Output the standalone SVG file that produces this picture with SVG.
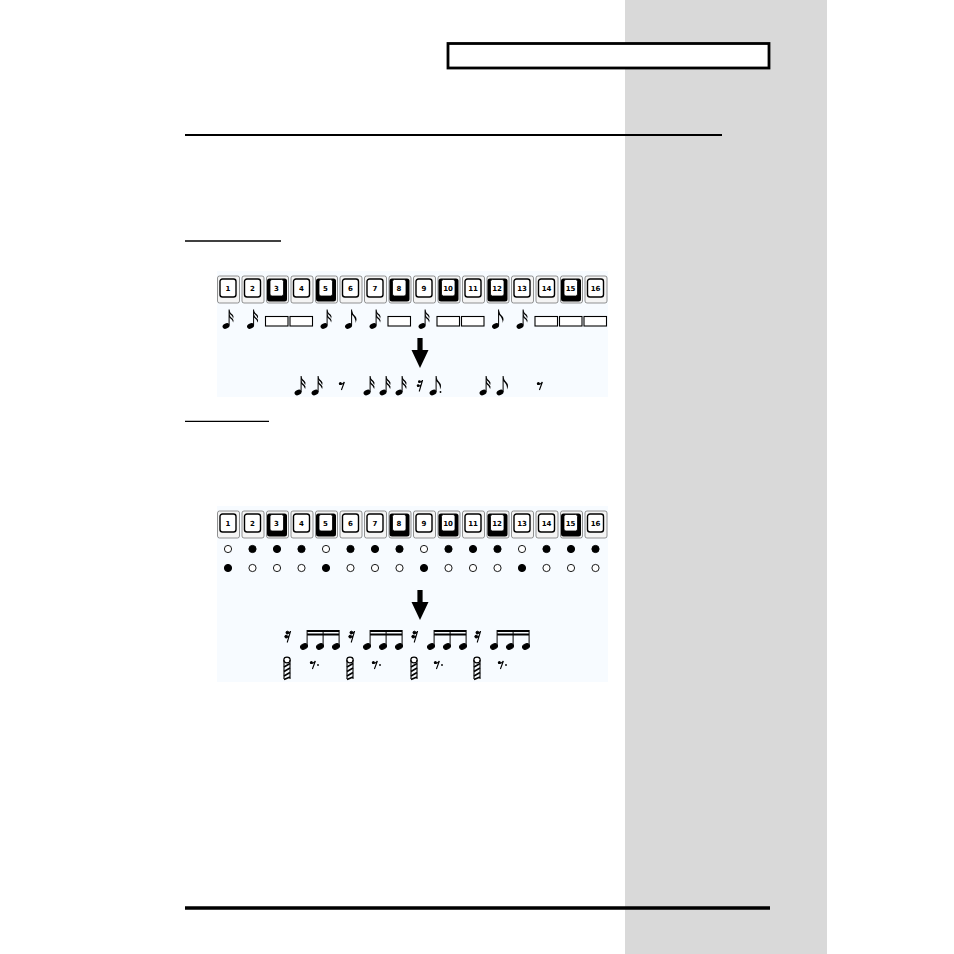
<svg xmlns="http://www.w3.org/2000/svg" xmlns:xlink="http://www.w3.org/1999/xlink" width="954" height="954" viewBox="0 0 954 954">
<style>
.hous{fill:#f4f4f4;stroke:#666;stroke-width:0.7}
.face{fill:#fff;stroke:#000;stroke-width:1.4}
.aface{fill:#fff;stroke:#000;stroke-width:0.8}
.lbl{font-family:"DejaVu Sans",sans-serif;font-weight:bold;font-size:7px;text-anchor:middle;fill:#000}
.box{fill:#fff;stroke:#000;stroke-width:1.1}
.on{fill:#000;stroke:#000;stroke-width:1}
.off{fill:#fff;stroke:#000;stroke-width:0.9}
.panel{fill:#f7fbff}
</style>
<defs>
<g id="n16">
<ellipse cx="0" cy="0" rx="3.6" ry="2.6" transform="rotate(-25)" fill="#000"/>
<line x1="3.1" y1="-0.5" x2="3.1" y2="-16.5" stroke="#000" stroke-width="1"/>
<path d="M3.1,-16.5 Q4,-13 6.5,-11.5 Q8.2,-10 7.2,-7.5 Q6.5,-10.5 3.1,-12.8 Z" fill="#000"/>
<path d="M3.1,-12.5 Q4,-9 6.5,-7.5 Q8.2,-6 7.2,-3.5 Q6.5,-6.5 3.1,-8.8 Z" fill="#000"/>
</g>
<g id="n8">
<ellipse cx="0" cy="0" rx="3.6" ry="2.6" transform="rotate(-25)" fill="#000"/>
<line x1="3.1" y1="-0.5" x2="3.1" y2="-16.5" stroke="#000" stroke-width="1"/>
<path d="M3.1,-16.5 Q4,-12 7,-9.5 Q9,-7 7,-3 Q7.5,-8 3.1,-11.5 Z" fill="#000"/>
</g>
<g id="nh">
<ellipse cx="0" cy="0" rx="3.6" ry="2.6" transform="rotate(-25)" fill="#000"/>
</g>
<g id="r8">
<circle cx="-1.6" cy="-2.6" r="1.5" fill="#000"/>
<path d="M-2.8,-2 Q0,-0.8 2.4,-4 L-0.6,4" fill="none" stroke="#000" stroke-width="1.1"/>
</g>
<g id="r16">
<circle cx="-0.6" cy="-4.4" r="1.4" fill="#000"/>
<circle cx="-1.8" cy="-0.4" r="1.4" fill="#000"/>
<path d="M-1.6,-4 Q0.8,-3 2.6,-5.8 M-2.8,0 Q-0.4,1 1.5,-1.8 M2.6,-5.8 L-0.8,5.5" fill="none" stroke="#000" stroke-width="1.1"/>
</g>
<g id="trem">
<ellipse cx="0" cy="-8" rx="3.2" ry="2.8" fill="#fff" stroke="#000" stroke-width="1.2"/>
<line x1="-3" y1="-8" x2="-3" y2="11" stroke="#000" stroke-width="1.1"/>
<line x1="3" y1="-8" x2="3" y2="11" stroke="#000" stroke-width="1.1"/>
<path d="M-3,-1 L3,-4.5 M-3,3.5 L3,0 M-3,8 L3,4.5 M-3,11.5 L3,9" stroke="#000" stroke-width="1.6"/>
</g>
<g id="arrow">
<rect x="-2.6" y="0" width="5.2" height="13" fill="#000"/>
<path d="M-8.5,12 L8.5,12 L0,30 Z" fill="#000"/>
</g>
<g id="key">
<rect class="hous" x="-10.5" y="-2" width="22" height="27" rx="2"/>
<rect class="face" x="-8" y="1" width="16" height="18" rx="2.5"/>
</g>
<g id="akey">
<rect class="hous" x="-10.5" y="-2" width="22" height="27" rx="2"/>
<rect x="-10" y="0.5" width="20" height="23" rx="2.5" fill="#000"/>
<rect class="aface" x="-7" y="1.5" width="13.5" height="16.5" rx="2"/>
</g>
</defs>

<rect width="954" height="954" fill="#fff"/>
<rect id="sidebar" x="625" y="0" width="202" height="954" fill="#d9d9d9"/>

<g id="header">
<rect x="448" y="43.5" width="321" height="24.5" fill="#fff" stroke="#000" stroke-width="2.8"/>
<line x1="185" y1="135" x2="722" y2="135" stroke="#000" stroke-width="2"/>
<line x1="185" y1="241" x2="281" y2="241" stroke="#000" stroke-width="1.3"/>
<line x1="185" y1="421.3" x2="269" y2="421.3" stroke="#000" stroke-width="1.3"/>
<line x1="185" y1="908" x2="770" y2="908" stroke="#000" stroke-width="3.5"/>
</g>

<g id="panel1">
<rect class="panel" x="217" y="271" width="391" height="126"/>
<g id="keys1">
<use xlink:href="#key" x="228" y="278"/><text class="lbl" x="228" y="291">1</text>
<use xlink:href="#key" x="252.5" y="278"/><text class="lbl" x="252.5" y="291">2</text>
<use xlink:href="#akey" x="277" y="278"/><text class="lbl" x="276.5" y="291">3</text>
<use xlink:href="#key" x="301.5" y="278"/><text class="lbl" x="301.5" y="291">4</text>
<use xlink:href="#akey" x="326" y="278"/><text class="lbl" x="325.5" y="291">5</text>
<use xlink:href="#key" x="350.5" y="278"/><text class="lbl" x="350.5" y="291">6</text>
<use xlink:href="#key" x="375" y="278"/><text class="lbl" x="375" y="291">7</text>
<use xlink:href="#akey" x="399.5" y="278"/><text class="lbl" x="399" y="291">8</text>
<use xlink:href="#key" x="424" y="278"/><text class="lbl" x="424" y="291">9</text>
<use xlink:href="#akey" x="448.5" y="278"/><text class="lbl" x="448" y="291">10</text>
<use xlink:href="#key" x="473" y="278"/><text class="lbl" x="473" y="291">11</text>
<use xlink:href="#akey" x="497.5" y="278"/><text class="lbl" x="497" y="291">12</text>
<use xlink:href="#key" x="522" y="278"/><text class="lbl" x="522" y="291">13</text>
<use xlink:href="#key" x="546.5" y="278"/><text class="lbl" x="546.5" y="291">14</text>
<use xlink:href="#akey" x="571" y="278"/><text class="lbl" x="570.5" y="291">15</text>
<use xlink:href="#key" x="595.5" y="278"/><text class="lbl" x="595.5" y="291">16</text>
</g>
<g id="steps1">
<use xlink:href="#n16" x="226" y="326"/>
<use xlink:href="#n16" x="250.5" y="326"/>
<rect class="box" x="265.5" y="316.5" width="22.5" height="9.5"/>
<rect class="box" x="290" y="316.5" width="22.5" height="9.5"/>
<use xlink:href="#n16" x="324" y="326"/>
<use xlink:href="#n8" x="348.5" y="326"/>
<use xlink:href="#n16" x="373" y="326"/>
<rect class="box" x="388" y="316.5" width="22.5" height="9.5"/>
<use xlink:href="#n16" x="422" y="326"/>
<rect class="box" x="437" y="316.5" width="22.5" height="9.5"/>
<rect class="box" x="461.5" y="316.5" width="22.5" height="9.5"/>
<use xlink:href="#n8" x="495.5" y="326"/>
<use xlink:href="#n16" x="520" y="326"/>
<rect class="box" x="535" y="316.5" width="22.5" height="9.5"/>
<rect class="box" x="559.5" y="316.5" width="22.5" height="9.5"/>
<rect class="box" x="584" y="316.5" width="22.5" height="9.5"/>
</g>
<use xlink:href="#arrow" x="420" y="338"/>
<g id="result1">
<use xlink:href="#n16" x="298" y="392.5"/>
<use xlink:href="#n16" x="315" y="392.5"/>
<use xlink:href="#r8" x="342" y="386"/>
<use xlink:href="#n16" x="367" y="392.5"/>
<use xlink:href="#n16" x="383" y="392.5"/>
<use xlink:href="#n16" x="399" y="392.5"/>
<use xlink:href="#r16" x="420" y="386"/>
<use xlink:href="#n8" x="433" y="392.5"/>
<circle cx="440.5" cy="392" r="0.9" fill="#000"/>
<use xlink:href="#n16" x="483" y="392.5"/>
<use xlink:href="#n8" x="500" y="392.5"/>
<use xlink:href="#r8" x="540" y="386"/>
</g>
</g>

<g id="panel2">
<rect class="panel" x="217" y="506" width="391" height="176"/>
<g id="keys2">
<use xlink:href="#key" x="228" y="513"/><text class="lbl" x="228" y="526">1</text>
<use xlink:href="#key" x="252.5" y="513"/><text class="lbl" x="252.5" y="526">2</text>
<use xlink:href="#akey" x="277" y="513"/><text class="lbl" x="276.5" y="526">3</text>
<use xlink:href="#key" x="301.5" y="513"/><text class="lbl" x="301.5" y="526">4</text>
<use xlink:href="#akey" x="326" y="513"/><text class="lbl" x="325.5" y="526">5</text>
<use xlink:href="#key" x="350.5" y="513"/><text class="lbl" x="350.5" y="526">6</text>
<use xlink:href="#key" x="375" y="513"/><text class="lbl" x="375" y="526">7</text>
<use xlink:href="#akey" x="399.5" y="513"/><text class="lbl" x="399" y="526">8</text>
<use xlink:href="#key" x="424" y="513"/><text class="lbl" x="424" y="526">9</text>
<use xlink:href="#akey" x="448.5" y="513"/><text class="lbl" x="448" y="526">10</text>
<use xlink:href="#key" x="473" y="513"/><text class="lbl" x="473" y="526">11</text>
<use xlink:href="#akey" x="497.5" y="513"/><text class="lbl" x="497" y="526">12</text>
<use xlink:href="#key" x="522" y="513"/><text class="lbl" x="522" y="526">13</text>
<use xlink:href="#key" x="546.5" y="513"/><text class="lbl" x="546.5" y="526">14</text>
<use xlink:href="#akey" x="571" y="513"/><text class="lbl" x="570.5" y="526">15</text>
<use xlink:href="#key" x="595.5" y="513"/><text class="lbl" x="595.5" y="526">16</text>
</g>
<g id="dots">
<circle class="off" cx="228" cy="549" r="3.6"/><circle class="on" cx="252.5" cy="549" r="3.6"/><circle class="on" cx="277" cy="549" r="3.6"/><circle class="on" cx="301.5" cy="549" r="3.6"/>
<circle class="off" cx="326" cy="549" r="3.6"/><circle class="on" cx="350.5" cy="549" r="3.6"/><circle class="on" cx="375" cy="549" r="3.6"/><circle class="on" cx="399.5" cy="549" r="3.6"/>
<circle class="off" cx="424" cy="549" r="3.6"/><circle class="on" cx="448.5" cy="549" r="3.6"/><circle class="on" cx="473" cy="549" r="3.6"/><circle class="on" cx="497.5" cy="549" r="3.6"/>
<circle class="off" cx="522" cy="549" r="3.6"/><circle class="on" cx="546.5" cy="549" r="3.6"/><circle class="on" cx="571" cy="549" r="3.6"/><circle class="on" cx="595.5" cy="549" r="3.6"/>
<circle class="on" cx="228" cy="568" r="3.6"/><circle class="off" cx="252.5" cy="568" r="3.6"/><circle class="off" cx="277" cy="568" r="3.6"/><circle class="off" cx="301.5" cy="568" r="3.6"/>
<circle class="on" cx="326" cy="568" r="3.6"/><circle class="off" cx="350.5" cy="568" r="3.6"/><circle class="off" cx="375" cy="568" r="3.6"/><circle class="off" cx="399.5" cy="568" r="3.6"/>
<circle class="on" cx="424" cy="568" r="3.6"/><circle class="off" cx="448.5" cy="568" r="3.6"/><circle class="off" cx="473" cy="568" r="3.6"/><circle class="off" cx="497.5" cy="568" r="3.6"/>
<circle class="on" cx="522" cy="568" r="3.6"/><circle class="off" cx="546.5" cy="568" r="3.6"/><circle class="off" cx="571" cy="568" r="3.6"/><circle class="off" cx="595.5" cy="568" r="3.6"/>
</g>
<use xlink:href="#arrow" x="420" y="590"/>
<g id="result2" stroke="#000">
<use xlink:href="#r16" x="288" y="637"/>
<use xlink:href="#nh" x="304" y="646.5"/><use xlink:href="#nh" x="320" y="646.5"/><use xlink:href="#nh" x="336" y="646.5"/>
<path d="M307.1,646 V630 M323.1,646 V630 M339.1,646 V630" stroke-width="1"/>
<path d="M307.1,631 H339.1 M307.1,634.5 H339.1" stroke-width="2"/>
<use xlink:href="#r16" x="352" y="637"/>
<use xlink:href="#nh" x="367" y="646.5"/><use xlink:href="#nh" x="383" y="646.5"/><use xlink:href="#nh" x="399" y="646.5"/>
<path d="M370.1,646 V630 M386.1,646 V630 M402.1,646 V630" stroke-width="1"/>
<path d="M370.1,631 H402.1 M370.1,634.5 H402.1" stroke-width="2"/>
<use xlink:href="#r16" x="415" y="637"/>
<use xlink:href="#nh" x="431" y="646.5"/><use xlink:href="#nh" x="447" y="646.5"/><use xlink:href="#nh" x="463" y="646.5"/>
<path d="M434.1,646 V630 M450.1,646 V630 M466.1,646 V630" stroke-width="1"/>
<path d="M434.1,631 H466.1 M434.1,634.5 H466.1" stroke-width="2"/>
<use xlink:href="#r16" x="478" y="637"/>
<use xlink:href="#nh" x="494" y="646.5"/><use xlink:href="#nh" x="510" y="646.5"/><use xlink:href="#nh" x="526" y="646.5"/>
<path d="M497.1,646 V630 M513.1,646 V630 M529.1,646 V630" stroke-width="1"/>
<path d="M497.1,631 H529.1 M497.1,634.5 H529.1" stroke-width="2"/>
</g>
<g id="result3">
<use xlink:href="#trem" x="287" y="668"/>
<use xlink:href="#r8" x="313" y="665"/><circle cx="318" cy="665" r="0.9" fill="#000"/>
<use xlink:href="#trem" x="350" y="668"/>
<use xlink:href="#r8" x="375" y="665"/><circle cx="380" cy="665" r="0.9" fill="#000"/>
<use xlink:href="#trem" x="414" y="668"/>
<use xlink:href="#r8" x="437" y="665"/><circle cx="442" cy="665" r="0.9" fill="#000"/>
<use xlink:href="#trem" x="477" y="668"/>
<use xlink:href="#r8" x="501" y="665"/><circle cx="506" cy="665" r="0.9" fill="#000"/>
</g>
</g>
</svg>
